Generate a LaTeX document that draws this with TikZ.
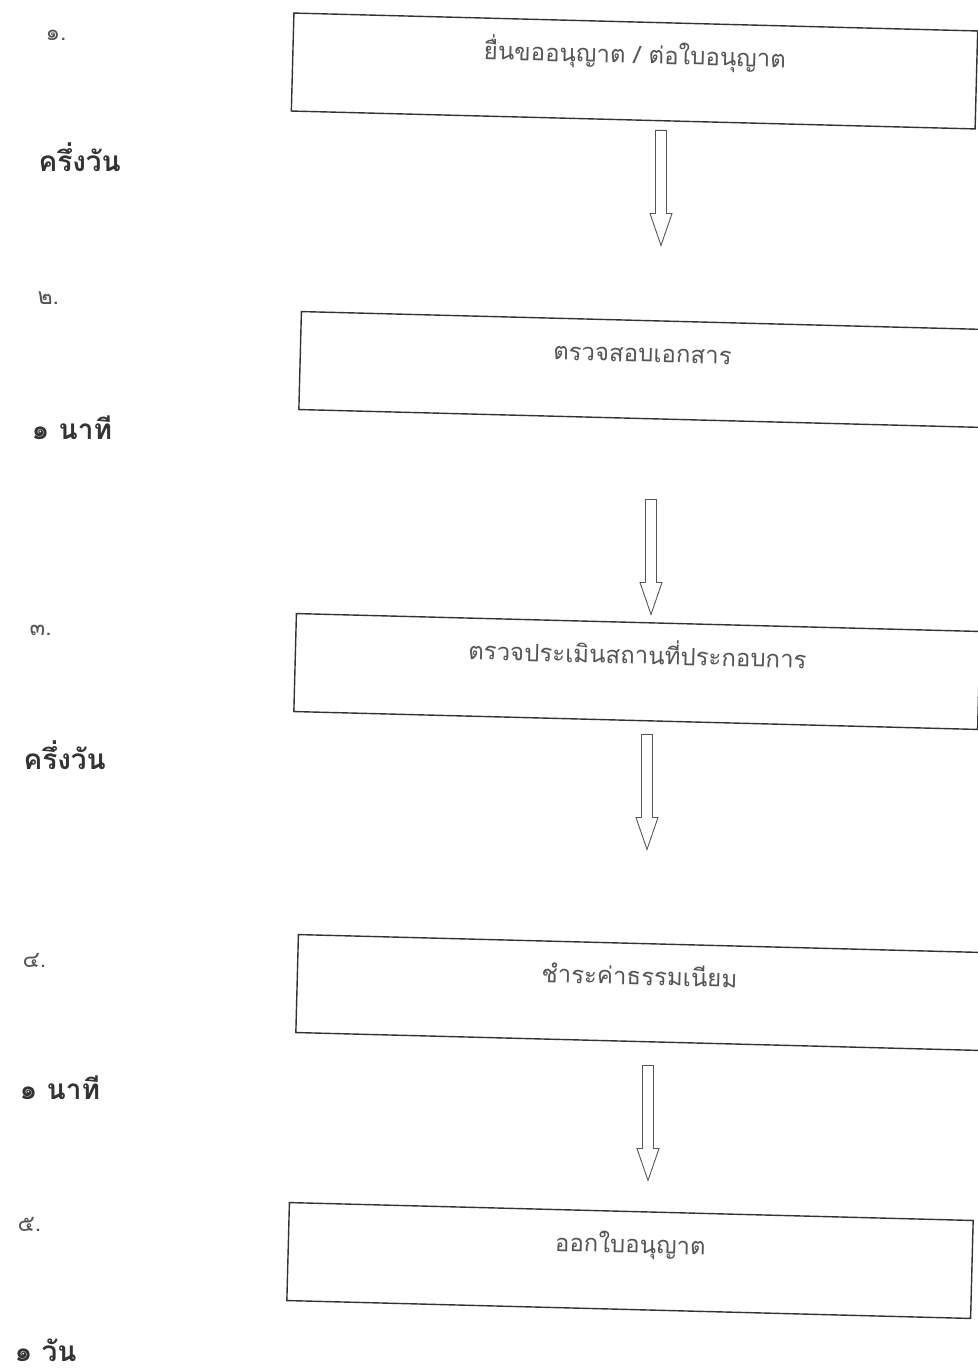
\documentclass[tikz,border=0pt]{standalone}
\usepackage{fontspec}
\usetikzlibrary{shapes.arrows}
\newfontfamily\thaifont[Script=Thai]{Loma}
\definecolor{scanink}{HTML}{333333}
\definecolor{scangray}{HTML}{555555}
\tikzset{
  stepbox/.style={draw=scanink, line width=1.4pt, rotate=-1.5,
    minimum width=684pt, minimum height=98pt, inner sep=0pt,
    text height=12pt, text depth=27pt, text=scangray,
    font=\thaifont\fontsize{24}{28}\selectfont},
  flowarrow/.style={draw=scangray, line width=0.9pt, single arrow,
    shape border rotate=270, minimum height=115pt, minimum width=22pt,
    inner sep=4.5pt, single arrow head extend=5pt,
    single arrow tip angle=38, anchor=tail},
  stepno/.style={anchor=base west, text=scangray, font=\thaifont\fontsize{23}{26}\selectfont},
  steptime/.style={anchor=base west, text=scanink, font=\thaifont\bfseries\fontsize{28}{32}\selectfont}
}
\begin{document}
\begin{tikzpicture}[x=1pt,y=-1pt]
  \useasboundingbox (0,0) rectangle (977,1372);

  % Steps
  \node [stepbox] (s1) at (634.5,71) {ยื่นขออนุญาต / ต่อใบอนุญาต};
  \node [stepbox] (s2) at (642,369.5) {ตรวจสอบเอกสาร};
  \node [stepbox] (s3) at (637,671.5) {ตรวจประเมินสถานที่ประกอบการ};
  \node [stepbox] (s4) at (639,992.5) {ชำระค่าธรรมเนียม};
  \node [stepbox] (s5) at (630,1260.5) {ออกใบอนุญาต};

  % Arrows between the steps (placed by their tails)
  \node [flowarrow] (a1) at (661,130) {};
  \node [flowarrow] (a2) at (651,499) {};
  \node [flowarrow] (a3) at (647,734) {};
  \node [flowarrow] (a4) at (648,1065) {};

  % Step numbers and times
  \node [stepno] (n1) at (42,41) {๑.};
  \node [steptime] (t1) at (35,172) {ครึ่งวัน};
  \node [stepno] (n2) at (34,304) {๒.};
  \node [steptime] (t2) at (28,439) {๑ นาที};
  \node [stepno] (n3) at (26,635) {๓.};
  \node [steptime] (t3) at (20,769) {ครึ่งวัน};
  \node [stepno] (n4) at (19,967) {๔.};
  \node [steptime] (t4) at (16,1099) {๑ นาที};
  \node [stepno] (n5) at (14,1231) {๕.};
  \node [steptime] (t5) at (11,1361) {๑ วัน};
\end{tikzpicture}
\end{document}
